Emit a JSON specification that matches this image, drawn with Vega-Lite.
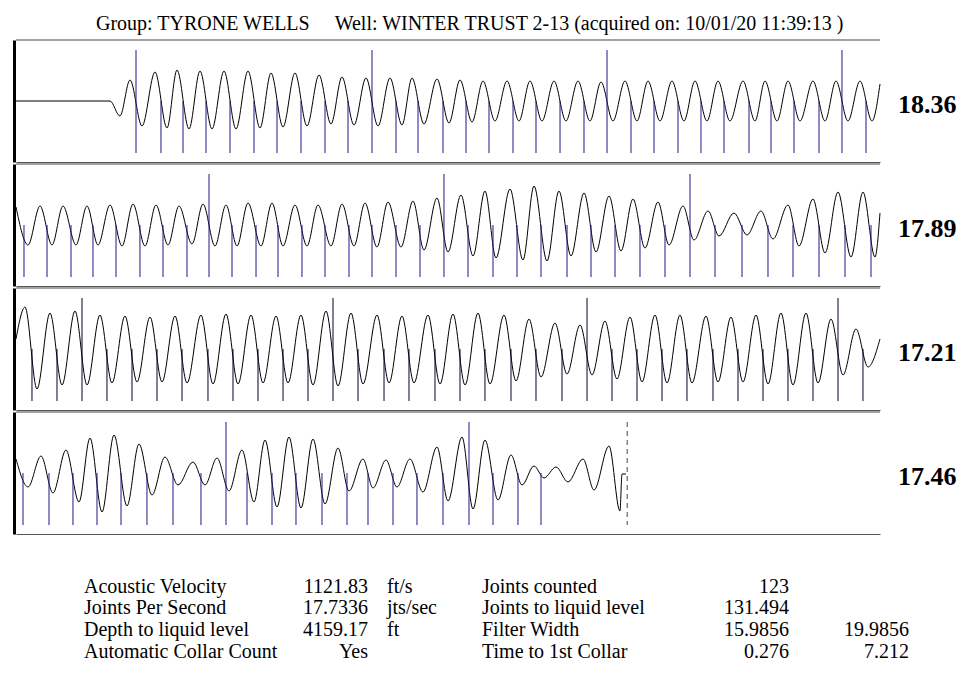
{
"$schema": "https://vega.github.io/schema/vega-lite/v6.json",
"background": "white",
"padding": {"left": 14, "top": 13, "right": 0, "bottom": 0},
"title": {"text": "Group: TYRONE WELLS\u00a0\u00a0\u00a0\u00a0\u00a0Well: WINTER TRUST 2-13 (acquired on: 10/01/20 11:39:13 )", "anchor": "start", "dx": 82, "font": "Liberation Serif", "fontSize": 20, "fontWeight": "normal", "color": "#000000", "offset": 6},
"config": {"view": {"stroke": null}, "axis": {"ticks": false, "labels": false, "grid": false, "domainColor": "#555555", "domainCap": "butt"}, "axisY": {"domainColor": "#000000", "domainWidth": 3}},
"spacing": 10,
"vconcat": [
{
"data": {"values": [
{"p":"18.36","k":"w","t":0,"a":0},{"p":"18.36","k":"w","t":0.2176,"a":0},{"p":"18.36","k":"w","t":0.2407,"a":-15},{"p":"18.36","k":"w","t":0.2639,"a":21},{"p":"18.36","k":"w","t":0.2917,"a":-25},{"p":"18.36","k":"w","t":0.3218,"a":29},{"p":"18.36","k":"w","t":0.3495,"a":-27},{"p":"18.36","k":"w","t":0.3727,"a":31},{"p":"18.36","k":"w","t":0.4005,"a":-28},{"p":"18.36","k":"w","t":0.4259,"a":30},{"p":"18.36","k":"w","t":0.4537,"a":-28},{"p":"18.36","k":"w","t":0.4815,"a":30},{"p":"18.36","k":"w","t":0.5093,"a":-28},{"p":"18.36","k":"w","t":0.5370,"a":30},{"p":"18.36","k":"w","t":0.5648,"a":-27},{"p":"18.36","k":"w","t":0.5903,"a":28},{"p":"18.36","k":"w","t":0.6181,"a":-26},{"p":"18.36","k":"w","t":0.6458,"a":28},{"p":"18.36","k":"w","t":0.6736,"a":-25},{"p":"18.36","k":"w","t":0.7014,"a":26},{"p":"18.36","k":"w","t":0.7292,"a":-23},{"p":"18.36","k":"w","t":0.7546,"a":24},{"p":"18.36","k":"w","t":0.7824,"a":-24},{"p":"18.36","k":"w","t":0.8102,"a":23},{"p":"18.36","k":"w","t":0.8380,"a":-25},{"p":"18.36","k":"w","t":0.8657,"a":23},{"p":"18.36","k":"w","t":0.8935,"a":-24},{"p":"18.36","k":"w","t":0.9167,"a":23},{"p":"18.36","k":"w","t":0.9444,"a":-23},{"p":"18.36","k":"w","t":0.9745,"a":22},{"p":"18.36","k":"w","t":1.0023,"a":-22},{"p":"18.36","k":"w","t":1.0278,"a":21},{"p":"18.36","k":"w","t":1.0556,"a":-21},{"p":"18.36","k":"w","t":1.0810,"a":20},{"p":"18.36","k":"w","t":1.1088,"a":-20},{"p":"18.36","k":"w","t":1.1366,"a":20},{"p":"18.36","k":"w","t":1.1644,"a":-20},{"p":"18.36","k":"w","t":1.1898,"a":20},{"p":"18.36","k":"w","t":1.2176,"a":-20},{"p":"18.36","k":"w","t":1.2454,"a":20},{"p":"18.36","k":"w","t":1.2731,"a":-20},{"p":"18.36","k":"w","t":1.3009,"a":20},{"p":"18.36","k":"w","t":1.3287,"a":-20},{"p":"18.36","k":"w","t":1.3542,"a":19},{"p":"18.36","k":"w","t":1.3819,"a":-20},{"p":"18.36","k":"w","t":1.4097,"a":20},{"p":"18.36","k":"w","t":1.4375,"a":-20},{"p":"18.36","k":"w","t":1.4630,"a":20},{"p":"18.36","k":"w","t":1.4907,"a":-20},{"p":"18.36","k":"w","t":1.5185,"a":20},{"p":"18.36","k":"w","t":1.5463,"a":-20},{"p":"18.36","k":"w","t":1.5718,"a":20},{"p":"18.36","k":"w","t":1.5995,"a":-20},{"p":"18.36","k":"w","t":1.6250,"a":20},{"p":"18.36","k":"w","t":1.6528,"a":-20},{"p":"18.36","k":"w","t":1.6829,"a":20},{"p":"18.36","k":"w","t":1.7106,"a":-20},{"p":"18.36","k":"w","t":1.7338,"a":20},{"p":"18.36","k":"w","t":1.7616,"a":-20},{"p":"18.36","k":"w","t":1.7870,"a":20},{"p":"18.36","k":"w","t":1.8148,"a":-20},{"p":"18.36","k":"w","t":1.8449,"a":20},{"p":"18.36","k":"w","t":1.8727,"a":-20},{"p":"18.36","k":"w","t":1.8981,"a":20},{"p":"18.36","k":"w","t":1.9259,"a":-20},{"p":"18.36","k":"w","t":1.9537,"a":20},{"p":"18.36","k":"w","t":1.9815,"a":-20},{"p":"18.36","k":"w","t":2.0,"a":17},
{"p":"18.36","k":"J","t":0.2778},{"p":"18.36","k":"j","t":0.3356},{"p":"18.36","k":"j","t":0.3866},{"p":"18.36","k":"j","t":0.4398},{"p":"18.36","k":"j","t":0.4954},{"p":"18.36","k":"j","t":0.5509},{"p":"18.36","k":"j","t":0.6042},{"p":"18.36","k":"j","t":0.6597},{"p":"18.36","k":"j","t":0.7153},{"p":"18.36","k":"j","t":0.7685},{"p":"18.36","k":"J","t":0.8241},{"p":"18.36","k":"j","t":0.8796},{"p":"18.36","k":"j","t":0.9306},{"p":"18.36","k":"j","t":0.9884},{"p":"18.36","k":"j","t":1.0417},{"p":"18.36","k":"j","t":1.0949},{"p":"18.36","k":"j","t":1.1505},{"p":"18.36","k":"j","t":1.2037},{"p":"18.36","k":"j","t":1.2593},{"p":"18.36","k":"j","t":1.3148},{"p":"18.36","k":"J","t":1.3681},{"p":"18.36","k":"j","t":1.4236},{"p":"18.36","k":"j","t":1.4769},{"p":"18.36","k":"j","t":1.5324},{"p":"18.36","k":"j","t":1.5856},{"p":"18.36","k":"j","t":1.6389},{"p":"18.36","k":"j","t":1.6968},{"p":"18.36","k":"j","t":1.7477},{"p":"18.36","k":"j","t":1.8009},{"p":"18.36","k":"j","t":1.8588},{"p":"18.36","k":"J","t":1.9120},{"p":"18.36","k":"j","t":1.9676},
{"p":"17.89","k":"w","t":0,"a":18},{"p":"17.89","k":"w","t":0.0278,"a":-20},{"p":"17.89","k":"w","t":0.0556,"a":19},{"p":"17.89","k":"w","t":0.0833,"a":-20},{"p":"17.89","k":"w","t":0.1088,"a":19},{"p":"17.89","k":"w","t":0.1389,"a":-20},{"p":"17.89","k":"w","t":0.1644,"a":19},{"p":"17.89","k":"w","t":0.1898,"a":-20},{"p":"17.89","k":"w","t":0.2176,"a":20},{"p":"17.89","k":"w","t":0.2454,"a":-21},{"p":"17.89","k":"w","t":0.2708,"a":21},{"p":"17.89","k":"w","t":0.2986,"a":-21},{"p":"17.89","k":"w","t":0.3241,"a":20},{"p":"17.89","k":"w","t":0.3519,"a":-20},{"p":"17.89","k":"w","t":0.3773,"a":19},{"p":"17.89","k":"w","t":0.4074,"a":-19},{"p":"17.89","k":"w","t":0.4329,"a":21},{"p":"17.89","k":"w","t":0.4606,"a":-21},{"p":"17.89","k":"w","t":0.4861,"a":20},{"p":"17.89","k":"w","t":0.5116,"a":-21},{"p":"17.89","k":"w","t":0.5370,"a":22},{"p":"17.89","k":"w","t":0.5671,"a":-21},{"p":"17.89","k":"w","t":0.5926,"a":22},{"p":"17.89","k":"w","t":0.6181,"a":-21},{"p":"17.89","k":"w","t":0.6458,"a":20},{"p":"17.89","k":"w","t":0.6736,"a":-21},{"p":"17.89","k":"w","t":0.6991,"a":20},{"p":"17.89","k":"w","t":0.7292,"a":-21},{"p":"17.89","k":"w","t":0.7546,"a":21},{"p":"17.89","k":"w","t":0.7824,"a":-21},{"p":"17.89","k":"w","t":0.8079,"a":22},{"p":"17.89","k":"w","t":0.8356,"a":-22},{"p":"17.89","k":"w","t":0.8611,"a":23},{"p":"17.89","k":"w","t":0.8912,"a":-22},{"p":"17.89","k":"w","t":0.9190,"a":24},{"p":"17.89","k":"w","t":0.9444,"a":-25},{"p":"17.89","k":"w","t":0.9745,"a":27},{"p":"17.89","k":"w","t":1.0000,"a":-27},{"p":"17.89","k":"w","t":1.0301,"a":30},{"p":"17.89","k":"w","t":1.0579,"a":-31},{"p":"17.89","k":"w","t":1.0856,"a":34},{"p":"17.89","k":"w","t":1.1111,"a":-33},{"p":"17.89","k":"w","t":1.1435,"a":36},{"p":"17.89","k":"w","t":1.1736,"a":-35},{"p":"17.89","k":"w","t":1.1991,"a":39},{"p":"17.89","k":"w","t":1.2292,"a":-36},{"p":"17.89","k":"w","t":1.2569,"a":34},{"p":"17.89","k":"w","t":1.2847,"a":-31},{"p":"17.89","k":"w","t":1.3148,"a":32},{"p":"17.89","k":"w","t":1.3426,"a":-27},{"p":"17.89","k":"w","t":1.3727,"a":29},{"p":"17.89","k":"w","t":1.4005,"a":-26},{"p":"17.89","k":"w","t":1.4282,"a":26},{"p":"17.89","k":"w","t":1.4560,"a":-23},{"p":"17.89","k":"w","t":1.4861,"a":23},{"p":"17.89","k":"w","t":1.5116,"a":-20},{"p":"17.89","k":"w","t":1.5440,"a":19},{"p":"17.89","k":"w","t":1.5694,"a":-15},{"p":"17.89","k":"w","t":1.6019,"a":14},{"p":"17.89","k":"w","t":1.6273,"a":-11},{"p":"17.89","k":"w","t":1.6620,"a":12},{"p":"17.89","k":"w","t":1.6921,"a":-10},{"p":"17.89","k":"w","t":1.7245,"a":14},{"p":"17.89","k":"w","t":1.7523,"a":-14},{"p":"17.89","k":"w","t":1.7870,"a":20},{"p":"17.89","k":"w","t":1.8125,"a":-21},{"p":"17.89","k":"w","t":1.8449,"a":26},{"p":"17.89","k":"w","t":1.8727,"a":-28},{"p":"17.89","k":"w","t":1.9028,"a":33},{"p":"17.89","k":"w","t":1.9329,"a":-32},{"p":"17.89","k":"w","t":1.9606,"a":33},{"p":"17.89","k":"w","t":1.9884,"a":-32},{"p":"17.89","k":"w","t":2.0,"a":12},
{"p":"17.89","k":"j","t":0.0185},{"p":"17.89","k":"j","t":0.0718},{"p":"17.89","k":"j","t":0.1273},{"p":"17.89","k":"j","t":0.1782},{"p":"17.89","k":"j","t":0.2315},{"p":"17.89","k":"j","t":0.2870},{"p":"17.89","k":"j","t":0.3403},{"p":"17.89","k":"j","t":0.3958},{"p":"17.89","k":"J","t":0.4468},{"p":"17.89","k":"j","t":0.5000},{"p":"17.89","k":"j","t":0.5556},{"p":"17.89","k":"j","t":0.6065},{"p":"17.89","k":"j","t":0.6620},{"p":"17.89","k":"j","t":0.7153},{"p":"17.89","k":"j","t":0.7708},{"p":"17.89","k":"j","t":0.8241},{"p":"17.89","k":"j","t":0.8796},{"p":"17.89","k":"j","t":0.9352},{"p":"17.89","k":"J","t":0.9907},{"p":"17.89","k":"j","t":1.0463},{"p":"17.89","k":"j","t":1.1042},{"p":"17.89","k":"j","t":1.1597},{"p":"17.89","k":"j","t":1.2153},{"p":"17.89","k":"j","t":1.2755},{"p":"17.89","k":"j","t":1.3310},{"p":"17.89","k":"j","t":1.3866},{"p":"17.89","k":"j","t":1.4444},{"p":"17.89","k":"j","t":1.5023},{"p":"17.89","k":"J","t":1.5602},{"p":"17.89","k":"j","t":1.6181},{"p":"17.89","k":"j","t":1.6806},{"p":"17.89","k":"j","t":1.7407},{"p":"17.89","k":"j","t":1.7986},{"p":"17.89","k":"j","t":1.8588},{"p":"17.89","k":"j","t":1.9190},{"p":"17.89","k":"j","t":1.9792},
{"p":"17.21","k":"w","t":0,"a":10},{"p":"17.21","k":"w","t":0.0208,"a":42},{"p":"17.21","k":"w","t":0.0486,"a":-40},{"p":"17.21","k":"w","t":0.0787,"a":36},{"p":"17.21","k":"w","t":0.1065,"a":-36},{"p":"17.21","k":"w","t":0.1366,"a":38},{"p":"17.21","k":"w","t":0.1644,"a":-36},{"p":"17.21","k":"w","t":0.1944,"a":34},{"p":"17.21","k":"w","t":0.2222,"a":-34},{"p":"17.21","k":"w","t":0.2523,"a":33},{"p":"17.21","k":"w","t":0.2801,"a":-33},{"p":"17.21","k":"w","t":0.3102,"a":32},{"p":"17.21","k":"w","t":0.3380,"a":-33},{"p":"17.21","k":"w","t":0.3681,"a":33},{"p":"17.21","k":"w","t":0.3959,"a":-34},{"p":"17.21","k":"w","t":0.4282,"a":34},{"p":"17.21","k":"w","t":0.4560,"a":-35},{"p":"17.21","k":"w","t":0.4861,"a":35},{"p":"17.21","k":"w","t":0.5139,"a":-35},{"p":"17.21","k":"w","t":0.5440,"a":34},{"p":"17.21","k":"w","t":0.5718,"a":-34},{"p":"17.21","k":"w","t":0.6019,"a":33},{"p":"17.21","k":"w","t":0.6297,"a":-34},{"p":"17.21","k":"w","t":0.6597,"a":34},{"p":"17.21","k":"w","t":0.6875,"a":-36},{"p":"17.21","k":"w","t":0.7176,"a":38},{"p":"17.21","k":"w","t":0.7454,"a":-37},{"p":"17.21","k":"w","t":0.7755,"a":36},{"p":"17.21","k":"w","t":0.8033,"a":-35},{"p":"17.21","k":"w","t":0.8357,"a":34},{"p":"17.21","k":"w","t":0.8635,"a":-34},{"p":"17.21","k":"w","t":0.8935,"a":33},{"p":"17.21","k":"w","t":0.9213,"a":-34},{"p":"17.21","k":"w","t":0.9537,"a":34},{"p":"17.21","k":"w","t":0.9815,"a":-35},{"p":"17.21","k":"w","t":1.0116,"a":35},{"p":"17.21","k":"w","t":1.0394,"a":-36},{"p":"17.21","k":"w","t":1.0694,"a":36},{"p":"17.21","k":"w","t":1.0972,"a":-35},{"p":"17.21","k":"w","t":1.1296,"a":34},{"p":"17.21","k":"w","t":1.1574,"a":-32},{"p":"17.21","k":"w","t":1.1875,"a":30},{"p":"17.21","k":"w","t":1.2153,"a":-28},{"p":"17.21","k":"w","t":1.2477,"a":26},{"p":"17.21","k":"w","t":1.2755,"a":-25},{"p":"17.21","k":"w","t":1.3056,"a":24},{"p":"17.21","k":"w","t":1.3334,"a":-26},{"p":"17.21","k":"w","t":1.3634,"a":28},{"p":"17.21","k":"w","t":1.3912,"a":-30},{"p":"17.21","k":"w","t":1.4213,"a":32},{"p":"17.21","k":"w","t":1.4491,"a":-33},{"p":"17.21","k":"w","t":1.4792,"a":34},{"p":"17.21","k":"w","t":1.5070,"a":-34},{"p":"17.21","k":"w","t":1.5370,"a":34},{"p":"17.21","k":"w","t":1.5648,"a":-34},{"p":"17.21","k":"w","t":1.5972,"a":33},{"p":"17.21","k":"w","t":1.6250,"a":-33},{"p":"17.21","k":"w","t":1.6551,"a":32},{"p":"17.21","k":"w","t":1.6829,"a":-33},{"p":"17.21","k":"w","t":1.7130,"a":34},{"p":"17.21","k":"w","t":1.7408,"a":-35},{"p":"17.21","k":"w","t":1.7708,"a":36},{"p":"17.21","k":"w","t":1.7986,"a":-36},{"p":"17.21","k":"w","t":1.8287,"a":36},{"p":"17.21","k":"w","t":1.8565,"a":-34},{"p":"17.21","k":"w","t":1.8866,"a":30},{"p":"17.21","k":"w","t":1.9144,"a":-26},{"p":"17.21","k":"w","t":1.9444,"a":20},{"p":"17.21","k":"w","t":1.9722,"a":-18},{"p":"17.21","k":"w","t":2.0,"a":10},
{"p":"17.21","k":"j","t":0.0370},{"p":"17.21","k":"j","t":0.0949},{"p":"17.21","k":"J","t":0.1528},{"p":"17.21","k":"j","t":0.2106},{"p":"17.21","k":"j","t":0.2685},{"p":"17.21","k":"j","t":0.3264},{"p":"17.21","k":"j","t":0.3843},{"p":"17.21","k":"j","t":0.4444},{"p":"17.21","k":"j","t":0.5023},{"p":"17.21","k":"j","t":0.5602},{"p":"17.21","k":"j","t":0.6181},{"p":"17.21","k":"j","t":0.6759},{"p":"17.21","k":"J","t":0.7338},{"p":"17.21","k":"j","t":0.7917},{"p":"17.21","k":"j","t":0.8519},{"p":"17.21","k":"j","t":0.9097},{"p":"17.21","k":"j","t":0.9699},{"p":"17.21","k":"j","t":1.0278},{"p":"17.21","k":"j","t":1.0856},{"p":"17.21","k":"j","t":1.1458},{"p":"17.21","k":"j","t":1.2037},{"p":"17.21","k":"j","t":1.2639},{"p":"17.21","k":"J","t":1.3218},{"p":"17.21","k":"j","t":1.3796},{"p":"17.21","k":"j","t":1.4375},{"p":"17.21","k":"j","t":1.4954},{"p":"17.21","k":"j","t":1.5532},{"p":"17.21","k":"j","t":1.6134},{"p":"17.21","k":"j","t":1.6713},{"p":"17.21","k":"j","t":1.7292},{"p":"17.21","k":"j","t":1.7870},{"p":"17.21","k":"j","t":1.8449},{"p":"17.21","k":"J","t":1.9028},{"p":"17.21","k":"j","t":1.9606},
{"p":"17.46","k":"w","t":0,"a":14},{"p":"17.46","k":"w","t":0.0278,"a":-14},{"p":"17.46","k":"w","t":0.0579,"a":17},{"p":"17.46","k":"w","t":0.0856,"a":-20},{"p":"17.46","k":"w","t":0.1157,"a":23},{"p":"17.46","k":"w","t":0.1458,"a":-29},{"p":"17.46","k":"w","t":0.1713,"a":35},{"p":"17.46","k":"w","t":0.1991,"a":-39},{"p":"17.46","k":"w","t":0.2269,"a":38},{"p":"17.46","k":"w","t":0.2569,"a":-33},{"p":"17.46","k":"w","t":0.2847,"a":29},{"p":"17.46","k":"w","t":0.3148,"a":-22},{"p":"17.46","k":"w","t":0.3449,"a":16},{"p":"17.46","k":"w","t":0.3750,"a":-12},{"p":"17.46","k":"w","t":0.4097,"a":11},{"p":"17.46","k":"w","t":0.4375,"a":-12},{"p":"17.46","k":"w","t":0.4653,"a":15},{"p":"17.46","k":"w","t":0.4931,"a":-18},{"p":"17.46","k":"w","t":0.5231,"a":23},{"p":"17.46","k":"w","t":0.5509,"a":-29},{"p":"17.46","k":"w","t":0.5764,"a":33},{"p":"17.46","k":"w","t":0.6042,"a":-34},{"p":"17.46","k":"w","t":0.6319,"a":36},{"p":"17.46","k":"w","t":0.6597,"a":-35},{"p":"17.46","k":"w","t":0.6875,"a":34},{"p":"17.46","k":"w","t":0.7153,"a":-31},{"p":"17.46","k":"w","t":0.7454,"a":25},{"p":"17.46","k":"w","t":0.7708,"a":-18},{"p":"17.46","k":"w","t":0.8032,"a":14},{"p":"17.46","k":"w","t":0.8264,"a":-15},{"p":"17.46","k":"w","t":0.8565,"a":13},{"p":"17.46","k":"w","t":0.8819,"a":-14},{"p":"17.46","k":"w","t":0.9120,"a":14},{"p":"17.46","k":"w","t":0.9421,"a":-19},{"p":"17.46","k":"w","t":0.9745,"a":26},{"p":"17.46","k":"w","t":1.0000,"a":-28},{"p":"17.46","k":"w","t":1.0324,"a":36},{"p":"17.46","k":"w","t":1.0579,"a":-36},{"p":"17.46","k":"w","t":1.0856,"a":33},{"p":"17.46","k":"w","t":1.1157,"a":-27},{"p":"17.46","k":"w","t":1.1458,"a":18},{"p":"17.46","k":"w","t":1.1713,"a":-12},{"p":"17.46","k":"w","t":1.1991,"a":7},{"p":"17.46","k":"w","t":1.2222,"a":-5},{"p":"17.46","k":"w","t":1.2500,"a":6},{"p":"17.46","k":"w","t":1.2778,"a":-9},{"p":"17.46","k":"w","t":1.3125,"a":14},{"p":"17.46","k":"w","t":1.3380,"a":-17},{"p":"17.46","k":"w","t":1.3727,"a":27},{"p":"17.46","k":"w","t":1.3981,"a":-38},{"p":"17.46","k":"w","t":1.4028,"a":-1},{"p":"17.46","k":"w","t":1.4120,"a":-1},
{"p":"17.46","k":"j","t":0.0162},{"p":"17.46","k":"j","t":0.0764},{"p":"17.46","k":"j","t":0.1319},{"p":"17.46","k":"j","t":0.1875},{"p":"17.46","k":"j","t":0.2431},{"p":"17.46","k":"j","t":0.3032},{"p":"17.46","k":"j","t":0.3634},{"p":"17.46","k":"j","t":0.4282},{"p":"17.46","k":"J","t":0.4861},{"p":"17.46","k":"j","t":0.5347},{"p":"17.46","k":"j","t":0.5926},{"p":"17.46","k":"j","t":0.6481},{"p":"17.46","k":"j","t":0.7083},{"p":"17.46","k":"j","t":0.7662},{"p":"17.46","k":"j","t":0.8148},{"p":"17.46","k":"j","t":0.8727},{"p":"17.46","k":"j","t":0.9282},{"p":"17.46","k":"j","t":0.9884},{"p":"17.46","k":"J","t":1.0486},{"p":"17.46","k":"j","t":1.1042},{"p":"17.46","k":"j","t":1.1620},{"p":"17.46","k":"j","t":1.2153},
{"p":"17.46","k":"L","t":1.415}
]},
"facet": {"row": {"field": "p", "type": "nominal", "sort": ["18.36", "17.89", "17.21", "17.46"], "header": {"title": null, "labels": false}}},
"spacing": {"row": 1},
"resolve": {"axis": {"x": "independent"}},
"spec": {
"width": 864,
"height": 122,
"layer": [
{"transform": [{"filter": "datum.k == 'w'"}],
 "mark": {"type": "line", "interpolate": "monotone", "color": "#000000", "strokeWidth": 1},
 "encoding": {
  "x": {"field": "t", "type": "quantitative", "title": null, "scale": {"domain": [0, 2], "nice": false, "zero": false}},
  "y": {"field": "a", "type": "quantitative", "title": null, "scale": {"domain": [-61, 61], "nice": false, "zero": false}}
 }},
{"transform": [{"filter": "datum.k == 'j'"}],
 "mark": {"type": "rule", "strokeWidth": 1},
 "encoding": {
  "x": {"field": "t", "type": "quantitative", "title": null},
  "y": {"datum": 0},
  "y2": {"datum": -52},
  "color": {"condition": {"test": "datum.p == '17.21'", "value": "#000030"}, "value": "#1a1a8c"}
 }},
{"transform": [{"filter": "datum.k == 'J'"}],
 "mark": {"type": "rule", "strokeWidth": 1},
 "encoding": {
  "x": {"field": "t", "type": "quantitative", "title": null},
  "y": {"datum": 51},
  "y2": {"datum": -52},
  "color": {"condition": {"test": "datum.p == '17.21'", "value": "#000030"}, "value": "#1a1a8c"}
 }},
{"transform": [{"filter": "datum.k == 'w' && datum.t == 0"}],
 "mark": {"type": "rule", "strokeWidth": 1, "color": "#444444"},
 "encoding": {
  "x": {"datum": 0},
  "x2": {"datum": 2},
  "y": {"datum": 61}
 }},
{"transform": [{"filter": "datum.k == 'w' && datum.t == 0"}],
 "mark": {"type": "text", "align": "left", "baseline": "alphabetic", "font": "Liberation Serif", "fontSize": 26, "fontWeight": "bold", "color": "#000000"},
 "encoding": {
  "x": {"datum": 2.0417},
  "y": {"datum": -11.5},
  "text": {"field": "p"}
 }},
{"transform": [{"filter": "datum.k == 'L'"}],
 "mark": {"type": "rule", "strokeWidth": 1.5, "color": "#808080", "strokeDash": [5, 4]},
 "encoding": {
  "x": {"field": "t", "type": "quantitative", "title": null},
  "y": {"datum": 51},
  "y2": {"datum": -52}
 }}
]
}
},
{
"width": 864,
"height": 146,
"data": {"values": [
{"row":1,"col":1,"s":"Acoustic Velocity"},{"row":1,"col":2,"s":"1121.83"},{"row":1,"col":3,"s":"ft/s"},{"row":1,"col":4,"s":"Joints counted"},{"row":1,"col":5,"s":"123"},
{"row":2,"col":1,"s":"Joints Per Second"},{"row":2,"col":2,"s":"17.7336"},{"row":2,"col":3,"s":"jts/sec"},{"row":2,"col":4,"s":"Joints to liquid level"},{"row":2,"col":5,"s":"131.494"},
{"row":3,"col":1,"s":"Depth to liquid level"},{"row":3,"col":2,"s":"4159.17"},{"row":3,"col":3,"s":"ft"},{"row":3,"col":4,"s":"Filter Width"},{"row":3,"col":5,"s":"15.9856"},{"row":3,"col":6,"s":"19.9856"},
{"row":4,"col":1,"s":"Automatic Collar Count"},{"row":4,"col":2,"s":"Yes"},{"row":4,"col":4,"s":"Time to 1st Collar"},{"row":4,"col":5,"s":"0.276"},{"row":4,"col":6,"s":"7.212"}
]},
"layer": [
{"transform": [{"filter": "datum.col == 1 || datum.col == 3 || datum.col == 4"}],
 "mark": {"type": "text", "align": "left", "baseline": "alphabetic", "font": "Liberation Serif", "fontSize": 20, "color": "#000000"},
 "encoding": {
  "x": {"field": "col", "type": "quantitative", "scale": {"domain": [1, 2, 3, 4, 5, 6], "range": [68, 352, 371, 466, 773, 893], "nice": false, "zero": false}, "axis": null},
  "y": {"field": "row", "type": "quantitative", "scale": {"domain": [1, 4], "range": [48.5, 113.5], "nice": false, "zero": false}, "axis": null},
  "text": {"field": "s"}
 }},
{"transform": [{"filter": "datum.col == 2 || datum.col == 5 || datum.col == 6"}],
 "mark": {"type": "text", "align": "right", "baseline": "alphabetic", "font": "Liberation Serif", "fontSize": 20, "color": "#000000"},
 "encoding": {
  "x": {"field": "col", "type": "quantitative", "axis": null},
  "y": {"field": "row", "type": "quantitative", "axis": null},
  "text": {"field": "s"}
 }}
]
}
]
}
